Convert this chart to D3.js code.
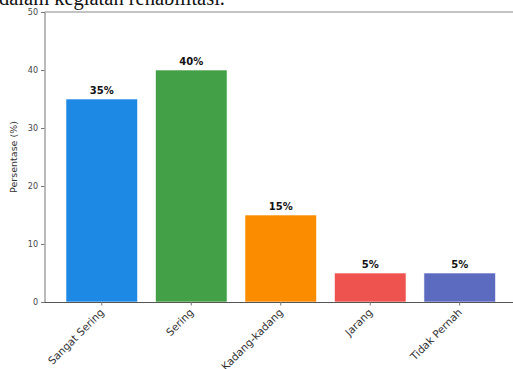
<!DOCTYPE html>
<html><head><meta charset="utf-8">
<script src="https://cdn.jsdelivr.net/npm/d3@7"></script>
<style>body{margin:0;background:#fff;overflow:hidden}</style>
</head><body>
<svg id="c" width="513" height="369"></svg>
<script>
const categories = ["Sangat Sering", "Sering", "Kadang-kadang", "Jarang", "Tidak Pernah"];
const values = [35, 40, 15, 5, 5];
const colors = ["#1e88e5", "#43a047", "#fb8c00", "#ef5350", "#5c6bc0"];
const yTicks = [0, 10, 20, 30, 40, 50];

const svg = d3.select("#c");
const pL = 44.5, pR = 517, pT = 12, pB = 302;
const step = (pR - pL) / 5.28;
const x = d3.scaleBand().domain(categories)
  .range([pL + 0.14 * step, pL + 5.14 * step]).paddingInner(0.2).paddingOuter(0.1);
const y = d3.scaleLinear().domain([0, 50]).range([pB, pT]);

// cut-off caption text from the page above
svg.append("text").attr("x", -1).attr("y", 4.5)
  .attr("font-family", "Liberation Serif, Times New Roman, serif").attr("font-size", 20.5)
  .attr("fill", "#111").text("dalam kegiatan rehabilitasi.");

// bars
svg.selectAll("rect.bar").data(categories).enter().append("rect")
  .attr("x", d => x(d)).attr("width", x.bandwidth())
  .attr("y", (d, i) => y(values[i])).attr("height", (d, i) => y(0) - y(values[i]))
  .attr("fill", (d, i) => colors[i]).attr("stroke", "#fff").attr("stroke-width", 0.6);

// value labels
svg.selectAll("text.val").data(categories).enter().append("text")
  .attr("x", d => x(d) + x.bandwidth() / 2).attr("y", (d, i) => y(values[i]) - 5)
  .attr("text-anchor", "middle").attr("font-family", "DejaVu Sans, sans-serif")
  .attr("font-size", 10).attr("font-weight", "bold").attr("fill", "#111")
  .text((d, i) => values[i] + "%");

// y axis
const ya = svg.append("g").attr("transform", `translate(${pL},0)`)
  .call(d3.axisLeft(y).tickValues(yTicks).tickSize(3.5).tickPadding(3));
ya.select(".domain").attr("stroke", "#777");
ya.selectAll(".tick line").attr("stroke", "#777");
ya.selectAll(".tick text").attr("font-family", "DejaVu Sans, sans-serif").attr("font-size", 8).attr("fill", "#444");

// x axis
const xa = svg.append("g").attr("transform", `translate(0,${pB})`)
  .call(d3.axisBottom(x).tickSize(3.5).tickPadding(3).tickSizeOuter(0));
xa.select(".domain").attr("stroke", "#555").attr("d", `M${pL},0.5H${pR}`);
xa.selectAll(".tick line").attr("stroke", "#777");
xa.selectAll(".tick text").attr("font-family", "DejaVu Sans, sans-serif").attr("font-size", 10.5).attr("fill", "#333")
  .attr("text-anchor", "end").attr("dy", 0).attr("y", 0)
  .attr("transform", "translate(3,11) rotate(-45)");

// top spine
svg.append("line").attr("x1", pL).attr("x2", pR).attr("y1", pT).attr("y2", pT)
  .attr("stroke", "#888").attr("stroke-width", 1);

// y label
svg.append("text").attr("transform", `translate(17,${(pT + pB) / 2}) rotate(-90)`)
  .attr("text-anchor", "middle").attr("font-family", "DejaVu Sans, sans-serif")
  .attr("font-size", 9.5).attr("fill", "#333").text("Persentase (%)");
</script>
</body></html>
